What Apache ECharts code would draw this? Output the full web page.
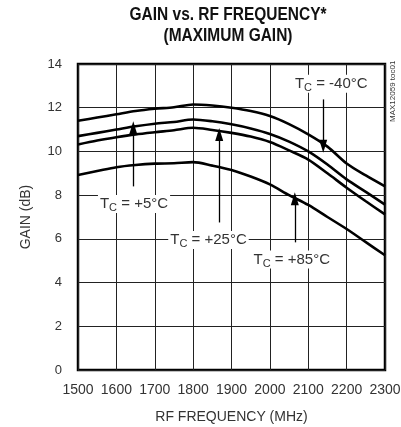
<!DOCTYPE html>
<html><head><meta charset="utf-8">
<script src="https://cdn.jsdelivr.net/npm/echarts@6/dist/echarts.min.js"></script>
<style>html,body{margin:0;padding:0;background:#fff}#c{width:401px;height:427px}</style>
</head><body><div id="c"></div>
<script>
var freq = [1500,1550,1600,1650,1700,1750,1800,1850,1900,1950,2000,2050,2100,2150,2200,2250,2300];
var gainM40 = [11.4,11.55,11.7,11.85,11.95,12.02,12.15,12.1,12.0,11.85,11.62,11.25,10.78,10.22,9.45,8.9,8.4];
var gainP5  = [10.7,10.85,11.0,11.15,11.27,11.35,11.46,11.38,11.24,11.05,10.8,10.45,10.0,9.4,8.72,8.15,7.57];
var gainP25 = [10.32,10.5,10.65,10.78,10.88,10.97,11.08,10.98,10.85,10.68,10.43,10.05,9.63,9.0,8.34,7.72,7.12];
var gainP85 = [8.92,9.1,9.28,9.38,9.44,9.46,9.51,9.35,9.15,8.85,8.49,8.0,7.55,7.0,6.45,5.85,5.25];
var seriesNames = ['-40°C','+5°C','+25°C','+85°C'];
var seriesData = [gainM40,gainP5,gainP25,gainP85];
// annotation: [label freq, label gain, arrow freq, arrow start gain, arrow tip gain]
var labelPos = [[2160,13.1,2139,12.38,10.24],[1646,7.6,1644,8.4,11.08],[1840,5.95,1868,6.75,10.78],[2057,5.05,2065,5.84,7.83]];
var xTicks = {min:1500,max:2300,step:100};
var yTicks = {min:0,max:14,step:2};

var FONT = '"Liberation Sans",Arial,sans-serif';
var rich = {
  t:{fontFamily:FONT,fontSize:15,color:'#333',lineHeight:18},
  s:{fontFamily:FONT,fontSize:11,color:'#333',lineHeight:10,padding:[8,0,0,0]}
};
var series = seriesData.map(function(d,i){
  var lp = labelPos[i];
  return {
    type:'line', name:seriesNames[i], smooth:0.3, symbol:'none',
    data: freq.map(function(f,j){return [f,d[j]];}),
    lineStyle:{color:'#000',width:2.6},
    z:3,
    markLine:{silent:true,symbol:['none','triangle'],symbolSize:[8,13],
      lineStyle:{color:'#000',width:1.3,type:'solid'},label:{show:false},
      data:[[{coord:[lp[2],lp[3]]},{coord:[lp[2],lp[4]]}]]},
    markPoint:{silent:true,symbol:'rect',symbolSize:1,itemStyle:{color:'rgba(0,0,0,0)'},
      data:[{coord:[lp[0],lp[1]],
        label:{show:true,position:'inside',formatter:'{t|T}{s|C}{t| = '+seriesNames[i]+'}',
          backgroundColor:'#fff',padding:[0,2,0,2],rich:rich}}]}
  };
});
var chart = echarts.init(document.getElementById('c'),null,{renderer:'canvas'});
chart.setOption({
  animation:false,
  backgroundColor:'#fff',
  grid:{left:78,right:16,top:64,bottom:57,outerBoundsMode:'none',containLabel:false,show:true,borderColor:'#000',borderWidth:2.5,backgroundColor:'transparent'},
  xAxis:{type:'value',min:xTicks.min,max:xTicks.max,interval:xTicks.step,
    name:'RF FREQUENCY (MHz)',nameLocation:'middle',nameGap:40,
    nameTextStyle:{fontFamily:FONT,fontSize:14,color:'#333'},
    axisLine:{show:false},axisTick:{show:false},
    axisLabel:{fontFamily:FONT,fontSize:14,color:'#333',margin:13,formatter:function(v){return String(v);}},
    splitLine:{show:true,lineStyle:{color:'#222',width:1}}},
  yAxis:{type:'value',min:yTicks.min,max:yTicks.max,interval:yTicks.step,
    name:'GAIN (dB)',nameLocation:'middle',nameGap:45,
    nameTextStyle:{fontFamily:FONT,fontSize:14,color:'#333'},
    axisLine:{show:false},axisTick:{show:false},
    axisLabel:{fontFamily:FONT,fontSize:13,color:'#333',margin:16},
    splitLine:{show:true,lineStyle:{color:'#222',width:1}}},
  graphic:[
    {type:'text',x:228,y:15,scaleX:0.86,
      style:{text:'GAIN vs. RF FREQUENCY*',font:'bold 18px "Liberation Sans", Arial, sans-serif',fill:'#111',textAlign:'center',textVerticalAlign:'middle'}},
    {type:'text',x:228,y:36,scaleX:0.86,
      style:{text:'(MAXIMUM GAIN)',font:'bold 18px "Liberation Sans", Arial, sans-serif',fill:'#111',textAlign:'center',textVerticalAlign:'middle'}},
    {type:'text',x:397,y:122,rotation:Math.PI/2,
      style:{text:'MAX12059 toc01',font:'8px "Liberation Sans", Arial, sans-serif',fill:'#333',textAlign:'left',textVerticalAlign:'bottom'}}
  ],
  series:series
});
</script></body></html>
